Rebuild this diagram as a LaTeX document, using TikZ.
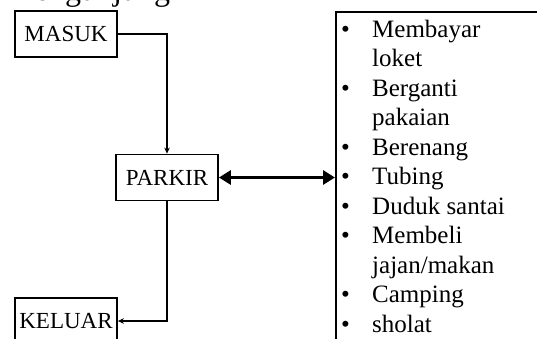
\documentclass[tikz,border=0pt]{standalone}
\usepackage{fontspec}
\setmainfont{Liberation Serif}
\usetikzlibrary{arrows.meta}
\begin{document}
\begin{tikzpicture}[x=1pt,y=-1pt,
  stage/.style={draw,line width=1.8pt,minimum width=102pt,minimum height=46pt,
    inner sep=0pt,font=\fontsize{23}{27}\selectfont},
  flow/.style={line width=1.4pt,-{Stealth[length=6pt,width=5.5pt]}},
  link/.style={line width=3.5pt,{Triangle[length=12pt,width=14pt]}-{Triangle[length=12pt,width=14pt]}},
  item/.style={anchor=base west,inner sep=0pt,font=\fontsize{25}{30}\selectfont}]
\useasboundingbox (0,0) rectangle (537,338);
\clip (0,0) rectangle (537,338);

% heading
\node[anchor=base west,inner sep=0pt,font=\fontsize{32}{38}\selectfont] (title) at (17,0) {Pengunjung};

% stages of the visit
\node[stage] (masuk) at (66,34) {MASUK};
\node[stage] (parkir) at (167,177.5) {PARKIR};
\node[stage] (keluar) at (66,321) {KELUAR};

% activity panel
\node[draw,line width=2.2pt,anchor=north west,minimum width=300pt,minimum height=400pt,inner sep=0pt] (act) at (335,11) {};

% activity list
\node[item] (b0) at (341,37) {\textbullet};
\node[item] (i0) at (372,37) {Membayar};
\node[item] (i1) at (372,66.5) {loket};
\node[item] (b2) at (341,96) {\textbullet};
\node[item] (i2) at (372,96) {Berganti};
\node[item] (i3) at (372,125.5) {pakaian};
\node[item] (b4) at (341,155) {\textbullet};
\node[item] (i4) at (372,155) {Berenang};
\node[item] (b5) at (341,184.5) {\textbullet};
\node[item] (i5) at (372,184.5) {Tubing};
\node[item] (b6) at (341,214) {\textbullet};
\node[item] (i6) at (372,214) {Duduk santai};
\node[item] (b7) at (341,243.5) {\textbullet};
\node[item] (i7) at (372,243.5) {Membeli};
\node[item] (i8) at (372,273) {jajan/makan};
\node[item] (b9) at (341,302.5) {\textbullet};
\node[item] (i9) at (372,302.5) {Camping};
\node[item] (b10) at (341,332) {\textbullet};
\node[item] (i10) at (372,332) {sholat};

% connectors
\draw[flow] (masuk.east) -| (parkir.north);
\draw[flow] (parkir.south) |- (keluar.east);
\draw[link] (parkir.east) -- (act.west |- parkir.east);
\end{tikzpicture}
\end{document}
